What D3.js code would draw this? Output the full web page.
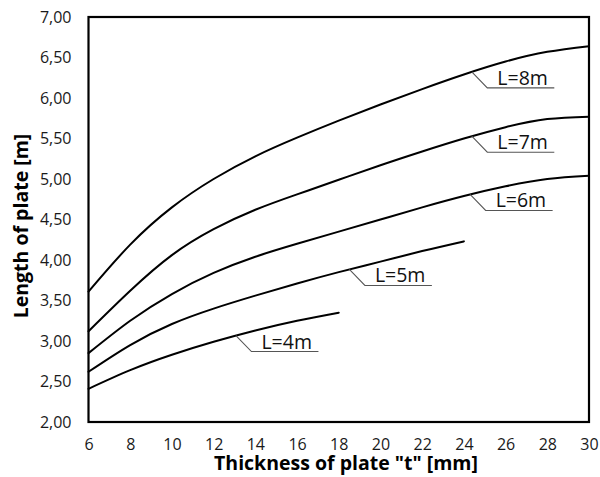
<!DOCTYPE html>
<html>
<head>
<meta charset="utf-8">
<script src="https://cdn.jsdelivr.net/npm/d3@7"></script>
<style>
  html, body { margin: 0; padding: 0; background: #fff; }
  svg { display: block; }
</style>
</head>
<body>
<svg id="chart" width="600" height="477"></svg>
<script>
// ---- data ----
const thickness = [6, 8, 10, 12, 14, 16, 18, 20, 22, 24, 26, 28, 30];
const lenL8 = [3.61, 4.19, 4.65, 5.00, 5.28, 5.51, 5.72, 5.92, 6.11, 6.29, 6.45, 6.57, 6.64];
const lenL7 = [3.12, 3.62, 4.06, 4.38, 4.62, 4.81, 4.99, 5.17, 5.34, 5.50, 5.64, 5.74, 5.77];
const lenL6 = [2.85, 3.25, 3.58, 3.84, 4.04, 4.20, 4.35, 4.50, 4.65, 4.79, 4.91, 5.00, 5.04];
const lenL5 = [2.62, 2.95, 3.21, 3.40, 3.56, 3.71, 3.85, 3.98, 4.11, 4.23];
const lenL4 = [2.41, 2.64, 2.83, 2.99, 3.13, 3.25, 3.35];
const seriesNames = ["L=8m", "L=7m", "L=6m", "L=5m", "L=4m"];
const seriesValues = [lenL8, lenL7, lenL6, lenL5, lenL4];
const labelThickness = [24.38, 24.38, 24.30, 18.51, 13.07];
const xTicks = [6, 8, 10, 12, 14, 16, 18, 20, 22, 24, 26, 28, 30];
const yTicks = [2, 2.5, 3, 3.5, 4, 4.5, 5, 5.5, 6, 6.5, 7];
const xTitle = 'Thickness of plate "t" [mm]';
const yTitle = 'Length of plate [m]';

// ---- layout ----
const svg = d3.select("#chart");
const mLeft = 88.5, mRight = 589, mTop = 17, mBottom = 422;
const x = d3.scaleLinear().domain([6, 30]).range([mLeft, mRight]);
const y = d3.scaleLinear().domain([2, 7]).range([mBottom, mTop]);
const font = "'Open Sans', 'Noto Sans', sans-serif";

// axes (labels only)
const fmt = d => d3.format(".2f")(d).replace(".", ",");
const gx = svg.append("g").attr("transform", `translate(0,${mBottom})`)
  .call(d3.axisBottom(x).tickValues(xTicks).tickSize(0).tickPadding(17).tickFormat(d3.format("d")));
const gy = svg.append("g").attr("transform", `translate(${mLeft},0)`)
  .call(d3.axisLeft(y).tickValues(yTicks).tickSize(0).tickPadding(17).tickFormat(fmt));
[gx, gy].forEach(g => {
  g.select(".domain").remove();
  g.selectAll("text").attr("font-family", font).attr("font-size", 16).attr("fill", "#1a1a1a");
});

// curves
const line = d3.line().x((d, i) => x(thickness[i])).y(d => y(d)).curve(d3.curveNatural);
const paths = seriesValues.map(vals =>
  svg.append("path").datum(vals).attr("d", line)
    .attr("fill", "none").attr("stroke", "#000").attr("stroke-width", 2)
    .attr("stroke-linejoin", "round").attr("stroke-linecap", "round").node()
);

// frame
svg.append("rect").attr("x", mLeft).attr("y", mTop)
  .attr("width", mRight - mLeft).attr("height", mBottom - mTop)
  .attr("fill", "none").attr("stroke", "#000").attr("stroke-width", 2.2);

// labels with leaders
function pointAtX(path, px) {
  const len = path.getTotalLength();
  let lo = 0, hi = len;
  for (let k = 0; k < 40; k++) {
    const mid = (lo + hi) / 2;
    if (path.getPointAtLength(mid).x < px) lo = mid; else hi = mid;
  }
  return path.getPointAtLength((lo + hi) / 2);
}
seriesNames.forEach((name, i) => {
  const p = pointAtX(paths[i], x(labelThickness[i]));
  const x1 = p.x + 15.5, y1 = p.y + 16;
  svg.append("path")
    .attr("d", `M${p.x},${p.y}L${x1},${y1}H${x1 + 67}`)
    .attr("fill", "none").attr("stroke", "#555").attr("stroke-width", 1.1);
  svg.append("text").attr("x", p.x + 25.5).attr("y", y1 - 3)
    .attr("font-family", font).attr("font-size", 19.5).attr("fill", "#111")
    .text(name);
});

// axis titles
svg.append("text").attr("x", 346).attr("y", 470).attr("text-anchor", "middle")
  .attr("font-family", font).attr("font-weight", "bold").attr("font-size", 19.5)
  .attr("fill", "#000").text(xTitle);
svg.append("text").attr("transform", "translate(28,226) rotate(-90)")
  .attr("text-anchor", "middle")
  .attr("font-family", font).attr("font-weight", "bold").attr("font-size", 19.5)
  .attr("fill", "#000").text(yTitle);
</script>
</body>
</html>
